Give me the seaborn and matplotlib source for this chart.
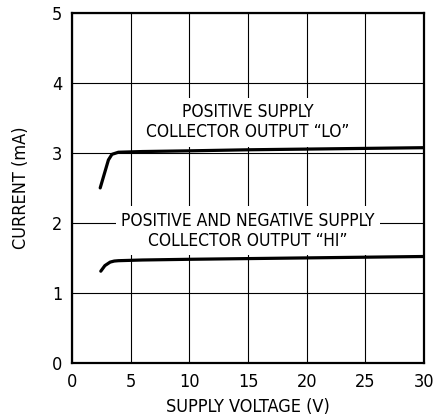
import numpy as np
import pandas as pd
import seaborn as sns
import matplotlib.pyplot as plt

# Curve values
lo_volts = [2.4, 2.75, 3.1, 3.4, 3.95, 6, 10, 15, 20, 25, 30]
lo_current = [2.50, 2.70, 2.90, 2.98, 3.01, 3.02, 3.03, 3.045, 3.055, 3.065, 3.075]

hi_volts = [2.45, 2.8, 3.25, 3.6, 3.95, 6, 10, 15, 20, 25, 30]
hi_current = [1.31, 1.39, 1.44, 1.455, 1.46, 1.47, 1.48, 1.49, 1.50, 1.51, 1.52]

x_ticks = [0, 5, 10, 15, 20, 25, 30]
y_ticks = [0, 1, 2, 3, 4, 5]

sns.set_style("white")
plt.rcParams["font.family"] = ["DejaVu Sans"]
plt.rcParams["font.stretch"] = "condensed"
plt.rcParams["text.color"] = "black"
plt.rcParams["xtick.color"] = "black"
plt.rcParams["ytick.color"] = "black"
plt.rcParams["axes.labelcolor"] = "black"

lo = pd.DataFrame({"volts": lo_volts, "current": lo_current})
hi = pd.DataFrame({"volts": hi_volts, "current": hi_current})

fig = plt.figure(figsize=(4.34, 4.19), dpi=100)
ax = fig.add_axes([0.166, 0.134, 0.811, 0.835])

sns.lineplot(data=lo, x="volts", y="current", color="black", lw=2.3, ax=ax, zorder=5)
sns.lineplot(data=hi, x="volts", y="current", color="black", lw=2.3, ax=ax, zorder=5)

ax.set_xlim(0, 30)
ax.set_ylim(0, 5)
ax.set_xticks(x_ticks)
ax.set_yticks(y_ticks)
ax.grid(True, color="black", lw=0.8)
ax.tick_params(length=0, labelsize=13, pad=7)
for s in ax.spines.values():
    s.set_visible(True)
    s.set_color("black")
    s.set_linewidth(1.6)

ax.set_xlabel("SUPPLY VOLTAGE (V)", fontsize=13, labelpad=5)
ax.set_ylabel("CURRENT (mA)", fontsize=13, labelpad=16)

ax.text(15, 3.44, "POSITIVE SUPPLY\nCOLLECTOR OUTPUT \u201cLO\u201d", ha="center", va="center",
        fontsize=12.5, linespacing=1.15, zorder=4,
        bbox=dict(facecolor="white", edgecolor="none", pad=4))
ax.text(15, 1.89, "POSITIVE AND NEGATIVE SUPPLY\nCOLLECTOR OUTPUT \u201cHI\u201d", ha="center", va="center",
        fontsize=12.5, linespacing=1.15, zorder=4,
        bbox=dict(facecolor="white", edgecolor="none", pad=4))

fig.savefig("out.png", dpi=100)
